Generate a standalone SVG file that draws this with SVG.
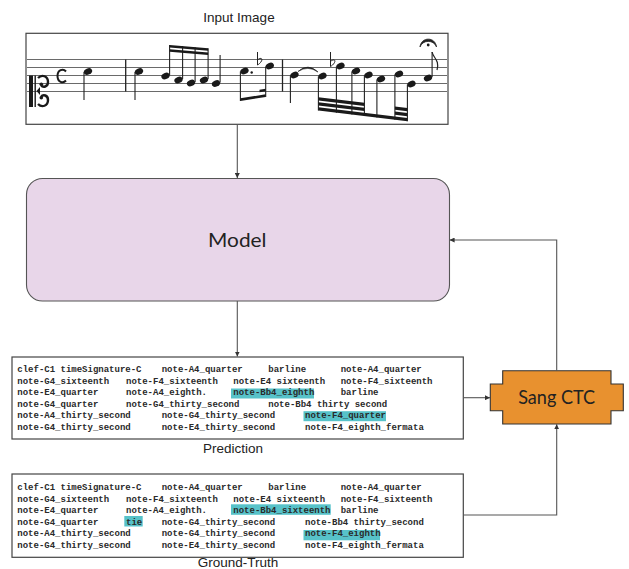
<svg xmlns="http://www.w3.org/2000/svg" xmlns:xlink="http://www.w3.org/1999/xlink" width="629" height="569" viewBox="0 0 629 569">
<style>
.lbl{font-family:"Liberation Sans",Arial,sans-serif;font-size:13.5px;fill:#222;text-anchor:middle}
.tok{font-family:"Liberation Mono","Courier New",monospace;font-size:9px;font-weight:bold;fill:#2a2a2a}
.hl{fill:#57c2c9}
.box{fill:#fff;stroke:#444;stroke-width:1.2}
.staff{stroke:#6a6a6a;stroke-width:1.1}
.stem{stroke:#222;stroke-width:1.1}
.ink{fill:#1a1a1a}
.conn{stroke:#555;stroke-width:1.1;fill:none}
</style>
<defs>
<ellipse id="h" rx="4.3" ry="3.1" transform="rotate(-25)" fill="#1a1a1a"/>
<marker id="ar" viewBox="0 0 6 6" refX="6" refY="3" markerWidth="5" markerHeight="5" markerUnits="userSpaceOnUse" orient="auto">
<path d="M0,0 L6,3 L0,6 Z" fill="#333"/>
</marker>
</defs>

<g id="input-image">
<text class="lbl" x="239" y="22">Input Image</text>
<rect class="box" x="26" y="33.3" width="422" height="91"/>
<g class="staff">
<line x1="27" y1="59.5" x2="447" y2="59.5"/>
<line x1="27" y1="67.5" x2="447" y2="67.5"/>
<line x1="27" y1="75.5" x2="447" y2="75.5"/>
<line x1="27" y1="83.5" x2="447" y2="83.5"/>
<line x1="27" y1="91.5" x2="447" y2="91.5"/>
</g>
<!-- clef -->
<rect class="ink" x="29" y="75.5" width="4" height="31.5"/>
<rect class="ink" x="34.5" y="75.5" width="1.4" height="31.5"/>
<path d="M36.5 91 L40 87 L40 95 Z" class="ink"/>
<path d="M38 78 C42 74,48 76,48 82 C48 87,43 88,41 85" fill="none" stroke="#1a1a1a" stroke-width="2.4"/>
<circle cx="41.3" cy="84.3" r="1.8" class="ink"/>
<path d="M38 104 C42 108,48 106,48 100 C48 95,43 94,41 97" fill="none" stroke="#1a1a1a" stroke-width="2.4"/>
<circle cx="41.3" cy="97.7" r="1.8" class="ink"/>
<!-- common time -->
<path d="M66 71.5 C63 68,57.5 70,57.5 76 C57.5 82,63 84,66 80.5" fill="none" stroke="#1a1a1a" stroke-width="2"/>
<!-- barlines -->
<line class="stem" x1="125.7" y1="59.5" x2="125.7" y2="91.5" style="stroke-width:1.3"/>
<line class="stem" x1="282.5" y1="59.5" x2="282.5" y2="91.5" style="stroke-width:1.3"/>
<!-- notes -->
<use xlink:href="#h" x="88" y="71.5"/><line class="stem" x1="84" y1="72" x2="84" y2="100"/>
<use xlink:href="#h" x="139" y="71.5"/><line class="stem" x1="135" y1="72" x2="135" y2="100"/>
<use xlink:href="#h" x="165.5" y="76"/><line class="stem" x1="169.6" y1="75" x2="169.6" y2="45"/>
<use xlink:href="#h" x="178.5" y="80"/><line class="stem" x1="182.6" y1="79" x2="182.6" y2="46"/>
<use xlink:href="#h" x="191" y="83"/><line class="stem" x1="195.1" y1="82" x2="195.1" y2="47.2"/>
<use xlink:href="#h" x="204" y="80"/><line class="stem" x1="208.1" y1="79" x2="208.1" y2="48.3"/>
<path class="ink" d="M169.6 45 L208.1 48.3 L208.1 50.8 L169.6 47.5 Z"/>
<path class="ink" d="M169.6 49.2 L208.1 52.5 L208.1 55 L169.6 51.7 Z"/>
<use xlink:href="#h" x="216" y="83.5"/><line class="stem" x1="220.1" y1="82.5" x2="220.1" y2="55"/>
<use xlink:href="#h" x="244.5" y="71"/><line class="stem" x1="240.4" y1="71.5" x2="240.4" y2="101"/>
<circle cx="251.7" cy="72.5" r="1.2" class="ink"/>
<path d="M257.5 52 L257.5 65 M257.5 60 C260 57.5,263 58,261.5 61 C260.5 63,258.5 64.5,257.5 65" fill="none" stroke="#222" stroke-width="1"/>
<use xlink:href="#h" x="269.8" y="66"/><line class="stem" x1="265.7" y1="66.5" x2="265.7" y2="97"/>
<path class="ink" d="M240.4 98.3 L265.7 94.3 L265.7 97 L240.4 101 Z"/>
<path class="ink" d="M259.5 89.8 L265.7 88.8 L265.7 91.3 L259.5 92.3 Z"/>
<use xlink:href="#h" x="294.5" y="75"/><line class="stem" x1="290.4" y1="75.5" x2="290.4" y2="103"/>
<path d="M298 71.5 Q308 62.5 318 72 Q308 65 298 71.5 Z" fill="#222" stroke="#222" stroke-width="0.6"/>
<use xlink:href="#h" x="322.5" y="76"/><line class="stem" x1="318.4" y1="76.5" x2="318.4" y2="110.5"/>
<path d="M330.5 52 L330.5 66.5 M330.5 61.5 C333 59,336 59.5,334.5 62.5 C333.5 64.5,331.5 66,330.5 66.5" fill="none" stroke="#222" stroke-width="1"/>
<use xlink:href="#h" x="340.5" y="66"/><line class="stem" x1="336.4" y1="66.5" x2="336.4" y2="112.7"/>
<use xlink:href="#h" x="356" y="71"/><line class="stem" x1="351.9" y1="71.5" x2="351.9" y2="114.5"/>
<use xlink:href="#h" x="368.5" y="75"/><line class="stem" x1="364.4" y1="75.5" x2="364.4" y2="116"/>
<use xlink:href="#h" x="381" y="79"/><line class="stem" x1="376.9" y1="79.5" x2="376.9" y2="117.5"/>
<use xlink:href="#h" x="399" y="74"/><line class="stem" x1="394.9" y1="74.5" x2="394.9" y2="119.7"/>
<use xlink:href="#h" x="411.5" y="84"/><line class="stem" x1="407.4" y1="84.5" x2="407.4" y2="121.2"/>
<path class="ink" d="M318.4 107.2 L407.4 117.9 L407.4 121.2 L318.4 110.5 Z"/>
<path class="ink" d="M318.4 102.2 L364.4 107.7 L364.4 111 L318.4 105.5 Z"/>
<path class="ink" d="M318.4 97.2 L364.4 102.7 L364.4 106 L318.4 100.5 Z"/>
<path class="ink" d="M394.9 111.4 L407.4 112.9 L407.4 116.2 L394.9 114.7 Z"/>
<path class="ink" d="M394.9 106.4 L407.4 107.9 L407.4 111.2 L394.9 109.7 Z"/>
<use xlink:href="#h" x="428" y="78"/><line class="stem" x1="432.1" y1="77" x2="432.1" y2="52"/>
<path d="M432.1 52 C433 58,440 60,437 70" fill="none" stroke="#222" stroke-width="1.2"/>
<path d="M420 47 C421 36.5,435.5 36.5,436.5 47 C434 39.5,422.5 39.5,420 47 Z" fill="#222" stroke="#222" stroke-width="0.8"/>
<circle cx="428.2" cy="45" r="1.4" class="ink"/>
</g>

<g id="model">
<rect x="26.5" y="178.5" width="423" height="122.5" rx="16" fill="#e8d6e9" stroke="#555" stroke-width="1.1"/>
<text x="237.3" y="247" font-family="Lato,'Noto Sans',sans-serif" font-size="20" fill="#222" text-anchor="middle" textLength="58.5" lengthAdjust="spacingAndGlyphs">Model</text>
</g>

<g id="prediction">
<rect class="box" x="12" y="357" width="451.3" height="82"/>
<rect class="hl" x="231" y="388.5" width="83" height="10"/>
<rect class="hl" x="303.5" y="411.2" width="82.5" height="10"/>
<text class="tok" x="17.3" y="372">clef-C1 timeSignature-C</text>
<text class="tok" x="161.7" y="372">note-A4_quarter</text>
<text class="tok" x="268.3" y="372">barline</text>
<text class="tok" x="340.7" y="372">note-A4_quarter</text>
<text class="tok" x="17.3" y="383.5">note-G4_sixteenth</text>
<text class="tok" x="126" y="383.5">note-F4_sixteenth</text>
<text class="tok" x="233.3" y="383.5">note-E4 sixteenth</text>
<text class="tok" x="340.7" y="383.5">note-F4_sixteenth</text>
<text class="tok" x="17.3" y="395">note-E4_quarter</text>
<text class="tok" x="126" y="395">note-A4_eighth.</text>
<text class="tok" x="233.3" y="395">note-Bb4_eighth</text>
<text class="tok" x="340.7" y="395">barline</text>
<text class="tok" x="17.3" y="406.5">note-G4_quarter</text>
<text class="tok" x="126" y="406.5">note-G4_thirty_second</text>
<text class="tok" x="268.3" y="406.5">note-Bb4 thirty second</text>
<text class="tok" x="17.3" y="418">note-A4_thirty_second</text>
<text class="tok" x="161.7" y="418">note-G4_thirty_second</text>
<text class="tok" x="305" y="418">note-F4_quarter</text>
<text class="tok" x="17.3" y="429.5">note-G4_thirty_second</text>
<text class="tok" x="161.7" y="429.5">note-E4_thirty_second</text>
<text class="tok" x="305" y="429.5">note-F4_eighth_fermata</text>
<text class="lbl" x="233" y="453">Prediction</text>
</g>

<g id="ground-truth">
<rect class="box" x="12" y="474" width="451.3" height="83.3"/>
<rect class="hl" x="231" y="504.3" width="99.7" height="10.5"/>
<rect class="hl" x="124.3" y="516" width="18.4" height="10.5"/>
<rect class="hl" x="303.5" y="530" width="76.5" height="10.3"/>
<text class="tok" x="17.3" y="490">clef-C1 timeSignature-C</text>
<text class="tok" x="161.7" y="490">note-A4_quarter</text>
<text class="tok" x="268.3" y="490">barline</text>
<text class="tok" x="340.7" y="490">note-A4_quarter</text>
<text class="tok" x="17.3" y="501.6">note-G4_sixteenth</text>
<text class="tok" x="126" y="501.6">note-F4_sixteenth</text>
<text class="tok" x="233.3" y="501.6">note-E4 sixteenth</text>
<text class="tok" x="340.7" y="501.6">note-F4_sixteenth</text>
<text class="tok" x="17.3" y="513.2">note-E4_quarter</text>
<text class="tok" x="126" y="513.2">note-A4_eighth.</text>
<text class="tok" x="233.3" y="513.2">note-Bb4_sixteenth</text>
<text class="tok" x="340.7" y="513.2">barline</text>
<text class="tok" x="17.3" y="524.8">note-G4_quarter</text>
<text class="tok" x="126" y="524.8">tie</text>
<text class="tok" x="161.7" y="524.8">note-G4_thirty_second</text>
<text class="tok" x="305" y="524.8">note-Bb4 thirty_second</text>
<text class="tok" x="17.3" y="536.4">note-A4_thirty_second</text>
<text class="tok" x="161.7" y="536.4">note-G4_thirty_second</text>
<text class="tok" x="305" y="536.4">note-F4_eighth</text>
<text class="tok" x="17.3" y="548">note-G4_thirty_second</text>
<text class="tok" x="161.7" y="548">note-E4_thirty_second</text>
<text class="tok" x="305" y="548">note-F4_eighth_fermata</text>
<text class="lbl" x="238" y="566.5">Ground-Truth</text>
</g>

<g id="sang-ctc">
<path d="M502.7 370.7 H611 V384 H623.3 V410.7 H611 V424 H502.7 V410.7 H490.3 V384 H502.7 Z" fill="#e8912f" stroke="#333" stroke-width="1.1"/>
<text x="556.7" y="404" font-family="Lato,'Noto Sans',sans-serif" font-size="19" fill="#222" text-anchor="middle" textLength="77" lengthAdjust="spacingAndGlyphs">Sang CTC</text>
</g>

<g id="connectors">
<line class="conn" x1="237.3" y1="124.5" x2="237.3" y2="178" marker-end="url(#ar)"/>
<line class="conn" x1="237.3" y1="301" x2="237.3" y2="356.5" marker-end="url(#ar)"/>
<line class="conn" x1="463.3" y1="397.7" x2="490" y2="397.7" marker-end="url(#ar)"/>
<polyline class="conn" points="463.3,515 556.7,515 556.7,424.3" marker-end="url(#ar)"/>
<polyline class="conn" points="556.7,370.7 556.7,240 449.6,240" marker-end="url(#ar)"/>
</g>
</svg>
